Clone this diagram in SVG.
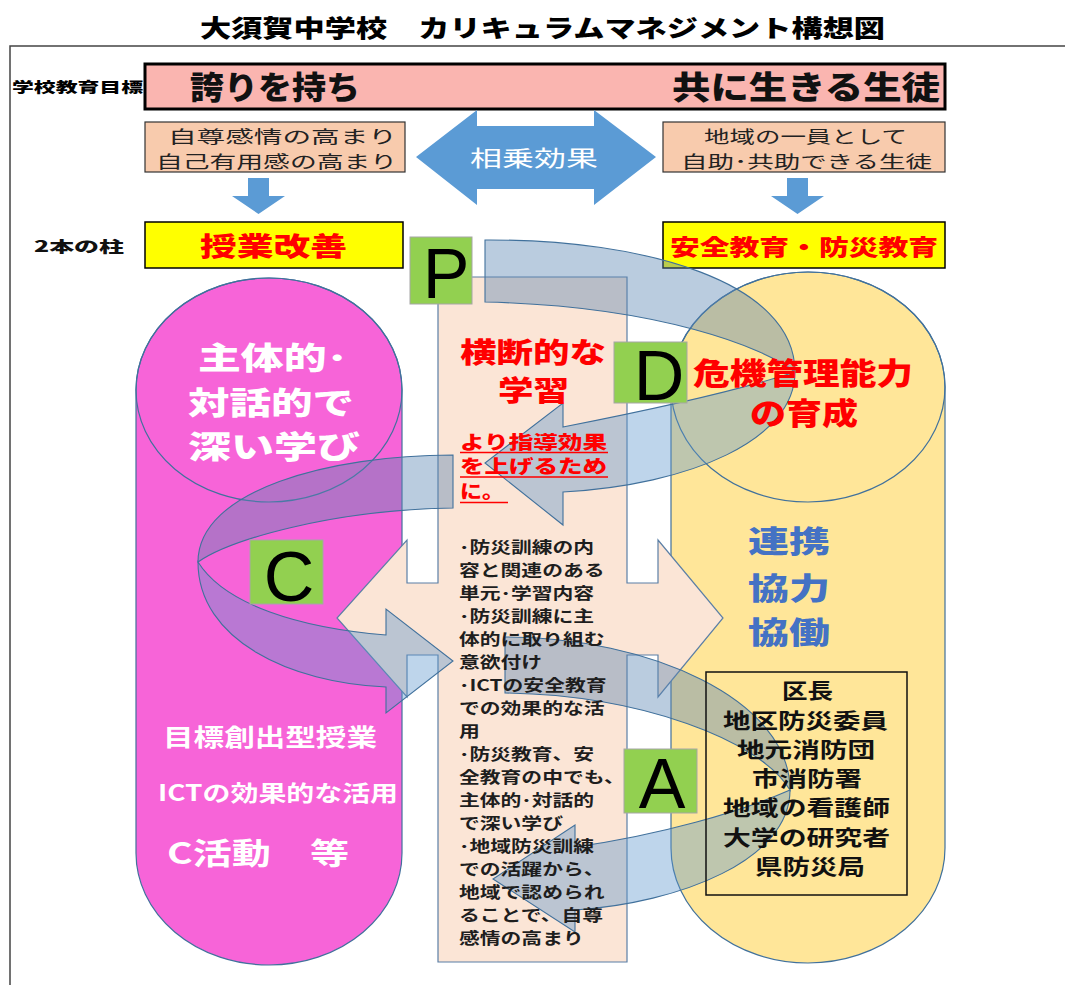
<svg xmlns="http://www.w3.org/2000/svg" width="1065" height="985" viewBox="0 0 1065 985">
<style>
text{font-family:"Noto Sans CJK JP","Noto Sans CJK SC",sans-serif;}
.b{font-weight:700;}
.h{font-weight:900;}
.cyl{stroke:#41719C;stroke-width:1.2;}
.back{fill:#5A86B3;fill-opacity:0.42;stroke:#41719C;stroke-width:1.1;}
.front{fill:#5C96CD;fill-opacity:0.4;stroke:#41719C;stroke-width:1.1;}
.lt{fill:#92D050;stroke:#A6A6A6;stroke-width:1;}
.ltr{font-family:"Liberation Sans",Arial,sans-serif;font-size:70px;fill:#000;text-anchor:middle;}
.body{font-size:16px;font-weight:700;fill:#1e1e1e;}
.org{font-size:21px;font-weight:700;fill:#111;}
</style>
<rect x="0" y="0" width="1065" height="985" fill="#fff"/>
<g id="frame">
<path d="M10,985 V46 H1065" fill="none" stroke="#444" stroke-width="1.5"/>
</g>
<text id="title" x="200" y="37" class="h" font-size="24" textLength="685" lengthAdjust="spacingAndGlyphs" fill="#000">大須賀中学校　カリキュラムマネジメント構想図</text>

<g id="goal">
<text x="12" y="92" class="h" font-size="14" textLength="131" lengthAdjust="spacingAndGlyphs" fill="#000">学校教育目標</text>
<rect x="145" y="64" width="800" height="45" fill="#FAB5B0" stroke="#000" stroke-width="3"/>
<text x="190" y="99" class="h" font-size="32" textLength="170" lengthAdjust="spacingAndGlyphs" fill="#111">誇りを持ち</text>
<text x="672" y="99" class="h" font-size="32" textLength="268" lengthAdjust="spacingAndGlyphs" fill="#111">共に生きる生徒</text>
</g>

<g id="self-esteem">
<rect x="145" y="122" width="260" height="50" fill="#F8CBAD" stroke="#333" stroke-width="1.2"/>
<text x="168" y="143" font-size="17" textLength="229" lengthAdjust="spacingAndGlyphs" fill="#222">自尊感情の高まり</text>
<text x="156" y="168" font-size="17" textLength="241" lengthAdjust="spacingAndGlyphs" fill="#222">自己有用感の高まり</text>
</g>
<g id="community">
<rect x="663" y="122" width="282" height="50" fill="#F8CBAD" stroke="#333" stroke-width="1.2"/>
<text x="704" y="143" font-size="17" textLength="203" lengthAdjust="spacingAndGlyphs" fill="#222">地域の一員として</text>
<text x="681" y="168" font-size="17" textLength="251" lengthAdjust="spacingAndGlyphs" fill="#222">自助･共助できる生徒</text>
</g>
<g id="synergy">
<path d="M416,157 L477,110 L477,126 L594,126 L594,110 L656,157 L594,205 L594,189 L477,189 L477,205 Z" fill="#5B9BD5"/>
<text x="470" y="166" font-size="22" textLength="128" lengthAdjust="spacingAndGlyphs" fill="#fff">相乗効果</text>
</g>

<g id="connectors">
<path d="M248,178 H269 V196 H285 L258.5,214 L232,196 H248 Z" fill="#5B9BD5"/>
<path d="M787,178 H808 V196 H824 L797.5,214 L771,196 H787 Z" fill="#5B9BD5"/>
</g>

<g id="pillars">
<text x="34" y="252" class="h" font-size="15" textLength="90" lengthAdjust="spacingAndGlyphs" fill="#111">2本の柱</text>
<rect x="145" y="222" width="258" height="46" fill="#FFFF00" stroke="#000" stroke-width="1.5"/>
<text x="200" y="256" class="h" font-size="26" textLength="147" lengthAdjust="spacingAndGlyphs" fill="#FF0000">授業改善</text>
<rect x="663" y="222" width="282" height="46" fill="#FFFF00" stroke="#000" stroke-width="1.5"/>
<text x="670" y="255" class="h" font-size="22" textLength="268" lengthAdjust="spacingAndGlyphs" fill="#FF0000">安全教育・防災教育</text>
</g>

<g id="pink-cylinder">
<path class="cyl" d="M136,390 A133,112 0 0 1 402,390 V853 A133,112 0 0 1 136,853 Z" fill="#F764D8"/>
<ellipse class="cyl" cx="269" cy="390" rx="133" ry="112" fill="none"/>
</g>
<g id="yellow-cylinder">
<path class="cyl" d="M671,387 A137,115 0 0 1 945,387 V848 A137,115 0 0 1 671,848 Z" fill="#FFE699"/>
<ellipse class="cyl" cx="808" cy="387" rx="137" ry="115" fill="none"/>
</g>

<g id="cross-column">
<path d="M438,277 H627 V583 H658 V540 L723,618 L658,697 V655 H627 V962 H438 V655 H407 V697 L337,618 L407,540 V583 H438 Z" fill="#FBE5D6" stroke="#5B7FA6" stroke-width="1.2"/>
</g>

<g id="cycle-arrows">
<path class="back" d="M485,240 C645,239 795,282 795,372 C765,348 660,306 485,302 Z"/>
<path class="front" d="M795,372 C795,440 690,485 563,492 L563,525 L485,463 L563,403 L563,427 C650,410 740,390 795,372 Z"/>
<path class="back" d="M453,455 C330,455 198,490 198,562 C230,540 330,510 453,508 Z"/>
<path class="front" d="M198,562 C198,640 290,683 386,687 L386,713 L453,661 L386,609 L386,635 C300,628 225,605 198,562 Z"/>
<path class="back" d="M505,637 C650,637 790,700 790,790 C760,740 640,695 505,693 Z"/>
<path class="front" d="M790,790 C790,860 680,903 575,910 L575,932 L493,879 L575,825 L575,847 C660,835 740,812 790,790 Z"/>
</g>

<g id="P"><rect class="lt" x="410" y="237" width="62" height="67"/><text class="ltr" x="446" y="298">P</text></g>
<g id="D"><rect class="lt" x="614" y="342" width="73" height="61"/><text class="ltr" x="659" y="400">D</text></g>
<g id="C"><rect class="lt" x="250" y="540" width="73" height="64"/><text class="ltr" x="289" y="601">C</text></g>
<g id="A"><rect class="lt" x="624" y="749" width="73" height="64"/><text class="ltr" x="662" y="808">A</text></g>

<g id="pink-text" fill="#fff">
<text x="198" y="369" class="h" font-size="31" textLength="150" lengthAdjust="spacingAndGlyphs">主体的･</text>
<text x="188" y="414" class="h" font-size="31" textLength="166" lengthAdjust="spacingAndGlyphs">対話的で</text>
<text x="188" y="458" class="h" font-size="31" textLength="172" lengthAdjust="spacingAndGlyphs">深い学び</text>
<text x="163" y="746" class="b" font-size="24" textLength="214" lengthAdjust="spacingAndGlyphs">目標創出型授業</text>
<text x="158" y="801" class="b" font-size="22" textLength="240" lengthAdjust="spacingAndGlyphs">ICTの効果的な活用</text>
<text x="167" y="864" class="b" font-size="30" textLength="182" lengthAdjust="spacingAndGlyphs">C活動　等</text>
</g>

<g id="column-text">
<text x="460" y="363" class="h" font-size="28" textLength="146" lengthAdjust="spacingAndGlyphs" fill="#FF0000">横断的な</text>
<text x="498" y="401" class="h" font-size="28" textLength="71" lengthAdjust="spacingAndGlyphs" fill="#FF0000">学習</text>
<text x="460" y="449" class="h" font-size="18" textLength="147" lengthAdjust="spacingAndGlyphs" fill="#FF0000">より指導効果</text>
<text x="460" y="473" class="h" font-size="18" textLength="147" lengthAdjust="spacingAndGlyphs" fill="#FF0000">を上げるため</text>
<text x="460" y="498" class="h" font-size="18" textLength="44" lengthAdjust="spacingAndGlyphs" fill="#FF0000">に。</text>
<path d="M460,452.5 H608 M460,477 H608 M460,502.5 H508" stroke="#FF0000" stroke-width="1.5" fill="none"/>
<g transform="translate(459,0) scale(1.3,1)" class="body">
<text x="0" y="553">･防災訓練の内</text>
<text x="0" y="576">容と関連のある</text>
<text x="0" y="599">単元･学習内容</text>
<text x="0" y="622">･防災訓練に主</text>
<text x="0" y="645">体的に取り組む</text>
<text x="0" y="668">意欲付け</text>
<text x="0" y="691">･ICTの安全教育</text>
<text x="0" y="714">での効果的な活</text>
<text x="0" y="737">用</text>
<text x="0" y="760">･防災教育、安</text>
<text x="0" y="783">全教育の中でも、</text>
<text x="0" y="806">主体的･対話的</text>
<text x="0" y="829">で深い学び</text>
<text x="0" y="852">･地域防災訓練</text>
<text x="0" y="875">での活躍から、</text>
<text x="0" y="898">地域で認められ</text>
<text x="0" y="921">ることで、自尊</text>
<text x="0" y="944">感情の高まり</text>
</g>
</g>

<g id="yellow-text">
<text x="693" y="384" class="h" font-size="30" textLength="220" lengthAdjust="spacingAndGlyphs" fill="#FF0000">危機管理能力</text>
<text x="750" y="424" class="h" font-size="30" textLength="108" lengthAdjust="spacingAndGlyphs" fill="#FF0000">の育成</text>
<text x="748" y="552" class="h" font-size="30" textLength="82" lengthAdjust="spacingAndGlyphs" fill="#4472C4">連携</text>
<text x="748" y="599" class="h" font-size="30" textLength="82" lengthAdjust="spacingAndGlyphs" fill="#4472C4">協力</text>
<text x="748" y="643" class="h" font-size="30" textLength="82" lengthAdjust="spacingAndGlyphs" fill="#4472C4">協働</text>
</g>

<g id="partners">
<rect x="706" y="672" width="201" height="223" fill="none" stroke="#111" stroke-width="1.5"/>
<text class="org" x="782" y="698" textLength="51" lengthAdjust="spacingAndGlyphs">区長</text>
<text class="org" x="723" y="728" textLength="165" lengthAdjust="spacingAndGlyphs">地区防災委員</text>
<text class="org" x="737" y="757" textLength="138" lengthAdjust="spacingAndGlyphs">地元消防団</text>
<text class="org" x="752" y="786" textLength="110" lengthAdjust="spacingAndGlyphs">市消防署</text>
<text class="org" x="723" y="815" textLength="167" lengthAdjust="spacingAndGlyphs">地域の看護師</text>
<text class="org" x="723" y="845" textLength="167" lengthAdjust="spacingAndGlyphs">大学の研究者</text>
<text class="org" x="755" y="874" textLength="110" lengthAdjust="spacingAndGlyphs">県防災局</text>
</g>
</svg>
